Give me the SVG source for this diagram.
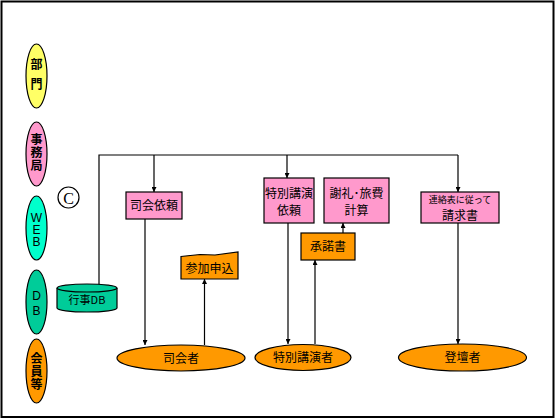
<svg xmlns="http://www.w3.org/2000/svg" width="556" height="420" viewBox="0 0 556 420">
<style>
text{font-family:"Noto Sans CJK JP","Liberation Sans",sans-serif;fill:#000;text-anchor:middle}
.s{stroke:#000;stroke-width:1.2}
.pink{fill:#FF99CC}
.org{fill:#FF9900}
.t{font-size:12px}
.lane{font-size:12px;font-weight:bold;writing-mode:vertical-rl;text-orientation:upright;text-anchor:start}
.lat{font-family:"Liberation Sans",sans-serif;font-weight:normal}
.c{fill:none;stroke:#000;stroke-width:1.2}
</style>
<defs>
<marker id="a" viewBox="0 0 10 10" refX="10" refY="5" markerWidth="5" markerHeight="5" orient="auto" markerUnits="userSpaceOnUse">
<path d="M0,0L10,5L0,10z" fill="#000"/>
</marker>
</defs>
<rect x="1.5" y="1.5" width="552" height="415.5" fill="#fff" stroke="#000" stroke-width="2"/>

<g id="lane-bumon"><ellipse class="s" cx="36.5" cy="76" rx="10.5" ry="32" fill="#FFFF66"/><text class="lane" x="36.5" y="58" letter-spacing="8">部門</text></g>
<g id="lane-jimukyoku"><ellipse class="s" cx="36.5" cy="154" rx="10.5" ry="32" fill="#FF99CC"/><text class="lane" x="36.5" y="133" letter-spacing="1">事務局</text></g>
<g id="lane-web"><ellipse class="s" cx="36.5" cy="228" rx="10.5" ry="32" fill="#00FFCC"/><text class="lane lat" x="36.5" y="211" letter-spacing="-2">WEB</text></g>
<g id="lane-db"><ellipse class="s" cx="36.5" cy="302" rx="10.5" ry="32" fill="#00CC99"/><text class="lane lat" x="36.5" y="289" letter-spacing="1">DB</text></g>
<g id="lane-kaiin"><ellipse class="s" cx="36.5" cy="371" rx="10.5" ry="32" fill="#FF9900"/><text class="lane" x="36.5" y="352" letter-spacing="1">会員等</text></g>

<g id="copyright"><circle class="s" cx="68.5" cy="197.5" r="10.5" fill="#fff"/><text x="68.5" y="203.5" style="font-family:'Liberation Serif',serif;font-size:16px">C</text></g>

<g id="connectors">
<path class="c" d="M99,285V155H458"/>
<path class="c" d="M154,155V192" marker-end="url(#a)"/>
<path class="c" d="M287,155V178" marker-end="url(#a)"/>
<path class="c" d="M458,155V192" marker-end="url(#a)"/>
<path class="c" d="M145,219V345" marker-end="url(#a)"/>
<path class="c" d="M204.5,345V279" marker-end="url(#a)"/>
<path class="c" d="M288,223V344" marker-end="url(#a)"/>
<path class="c" d="M315,344V260" marker-end="url(#a)"/>
<path class="c" d="M343,233V223" marker-end="url(#a)"/>
<path class="c" d="M458,223V344" marker-end="url(#a)"/>
</g>

<g id="db-gyoji">
<path class="s" d="M57,288V308A30,4 0 0 0 117,308V288" fill="#00CC99"/>
<ellipse class="s" cx="87" cy="288" rx="30" ry="4" fill="#00CC99"/>
<text x="87" y="304" style="font-size:11px">行事DB</text>
</g>

<g id="shikai-irai"><rect class="s pink" x="126" y="192" width="56" height="27"/><text class="t" x="154" y="210">司会依頼</text></g>
<g id="tokubetsu-irai"><rect class="s pink" x="264" y="178" width="50" height="45"/><text class="t" x="289" y="198">特別講演</text><text class="t" x="289" y="215">依頼</text></g>
<g id="sharei"><rect class="s pink" x="324" y="178" width="65" height="45"/><text class="t" x="356.5" y="198">謝礼･旅費</text><text class="t" x="356.5" y="215">計算</text></g>
<g id="shodakusho"><rect class="s org" x="301" y="233" width="54" height="27"/><text class="t" x="328" y="251">承諾書</text></g>
<g id="sanka"><path class="s org" d="M181,256.5L200,254.5L215,255L238,252V279H181Z"/><text class="t" x="209.5" y="273">参加申込</text></g>
<g id="seikyusho"><rect class="s pink" x="421" y="192" width="78" height="31"/><text x="460" y="202.5" style="font-size:9px">連絡表に従って</text><text x="460" y="219.5" style="font-size:12px">請求書</text></g>

<g id="shikaisha"><ellipse class="s org" cx="181" cy="358" rx="64" ry="13"/><text class="t" x="181" y="362.5">司会者</text></g>
<g id="koensha"><ellipse class="s org" cx="303" cy="357.5" rx="48" ry="13"/><text class="t" x="303" y="362">特別講演者</text></g>
<g id="totansha"><ellipse class="s org" cx="462.5" cy="357.5" rx="64" ry="13.5"/><text class="t" x="462.5" y="362">登壇者</text></g>
</svg>
